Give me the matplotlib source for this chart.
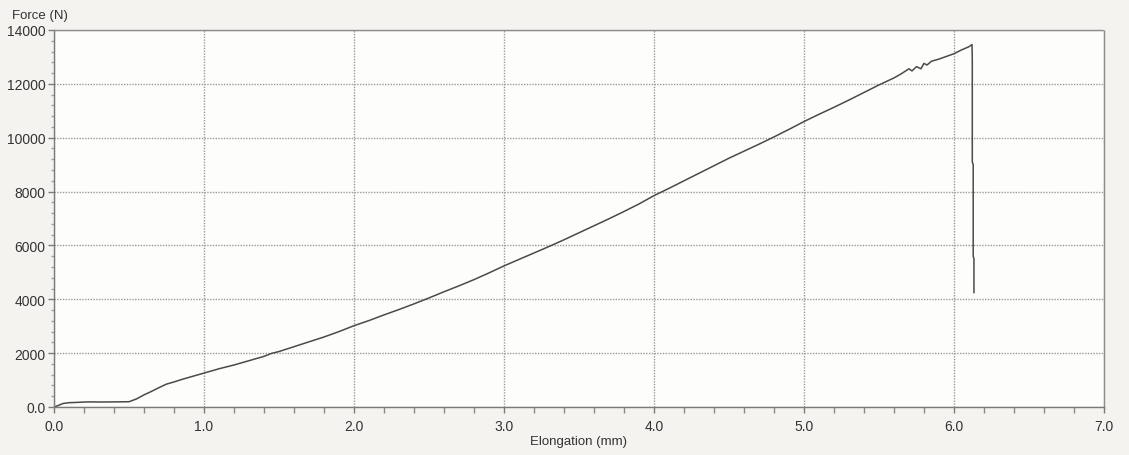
import matplotlib
matplotlib.use("Agg")
import matplotlib.pyplot as plt
from matplotlib.ticker import MultipleLocator, FuncFormatter

# Tensile test record: elongation (mm) vs. force (N)
elongation_mm = [
    0.00, 0.03, 0.06, 0.10, 0.15, 0.20, 0.25, 0.30, 0.40, 0.50,
    0.55, 0.60, 0.65, 0.70, 0.75, 0.80, 0.85, 0.90, 0.95, 1.00,
    1.10, 1.20, 1.30, 1.40, 1.45, 1.50, 1.60, 1.70, 1.80, 1.90,
    2.00, 2.10, 2.20, 2.30, 2.40, 2.50, 2.60, 2.70, 2.80, 2.90,
    3.00, 3.10, 3.20, 3.30, 3.40, 3.50, 3.60, 3.70, 3.80, 3.90,
    4.00, 4.10, 4.20, 4.30, 4.40, 4.50, 4.60, 4.70, 4.80, 4.90,
    5.00, 5.10, 5.20, 5.30, 5.40, 5.50, 5.60, 5.65, 5.70, 5.72,
    5.75, 5.78, 5.80, 5.82, 5.85, 5.90, 5.95, 6.00, 6.05, 6.10,
    6.12, 6.122, 6.122, 6.128, 6.128, 6.133, 6.133,
]
force_n = [
    0, 60, 130, 160, 170, 185, 190, 185, 190, 195,
    300, 450, 580, 720, 850, 930, 1020, 1100, 1180, 1260,
    1420, 1560, 1720, 1880, 1990, 2060, 2240, 2420, 2600, 2800,
    3020, 3210, 3420, 3620, 3830, 4050, 4280, 4500, 4730, 4980,
    5240, 5480, 5720, 5960, 6210, 6470, 6730, 6990, 7260, 7540,
    7850, 8120, 8400, 8680, 8960, 9240, 9500, 9760, 10030, 10310,
    10600, 10870, 11130, 11400, 11680, 11960, 12220, 12380, 12560, 12480,
    12640, 12560, 12760, 12700, 12840, 12920, 13020, 13120, 13260, 13380,
    13460, 12900, 9100, 9000, 5600, 5500, 4250,
]

x_major = [0.0, 1.0, 2.0, 3.0, 4.0, 5.0, 6.0, 7.0]
y_major = [0, 2000, 4000, 6000, 8000, 10000, 12000, 14000]

plt.rcParams["font.family"] = ["Liberation Sans", "DejaVu Sans"]

fig = plt.figure(figsize=(11.29, 4.56), dpi=100, facecolor="#f5f3ef")
ax = fig.add_axes([54 / 1129, 1 - 408 / 456, 1050 / 1129, 377 / 456])
ax.set_facecolor("#fdfdfb")

ax.plot(elongation_mm, force_n, color="#4a4a4a", lw=1.1, solid_joinstyle="round")

ax.set_xlim(0, 7.0)
ax.set_ylim(0, 14000)
ax.set_xticks(x_major)
ax.set_yticks(y_major)
ax.xaxis.set_minor_locator(MultipleLocator(0.2))
ax.yaxis.set_minor_locator(MultipleLocator(400))
ax.xaxis.set_major_formatter(FuncFormatter(lambda v, p: f"{v:.1f}"))
ax.yaxis.set_major_formatter(FuncFormatter(lambda v, p: "0.0" if v == 0 else f"{int(v)}"))

ax.grid(True, which="major", color="#9a9a9a", ls=(0, (1, 1)), lw=1.0)
ax.set_axisbelow(True)

for side in ("top", "right"):
    ax.spines[side].set_color("#8c8c8c")
    ax.spines[side].set_linestyle((0, (1, 1)))
    ax.spines[side].set_linewidth(1.0)
for side in ("left", "bottom"):
    ax.spines[side].set_color("#7a7a7a")
    ax.spines[side].set_linewidth(1.0)

ax.tick_params(axis="both", which="major", direction="out", length=4, width=1,
               color="#7a7a7a", labelsize=10, labelcolor="#333333")
ax.tick_params(axis="x", which="minor", direction="out", length=4, width=1,
               color="#8a8a8a")
ax.tick_params(axis="y", which="minor", direction="out", length=2.5, width=1,
               color="#a0a0a0")
ax.tick_params(axis="x", which="major", pad=5)
ax.tick_params(axis="y", which="major", pad=2)

ax.set_xlabel("Elongation (mm)", fontsize=9.5, color="#333333", labelpad=1)
fig.text(12 / 1129, 1 - 16 / 456, "Force (N)", fontsize=9.5, color="#333333",
         ha="left", va="center")

fig.savefig("out.png", dpi=100, facecolor=fig.get_facecolor())
